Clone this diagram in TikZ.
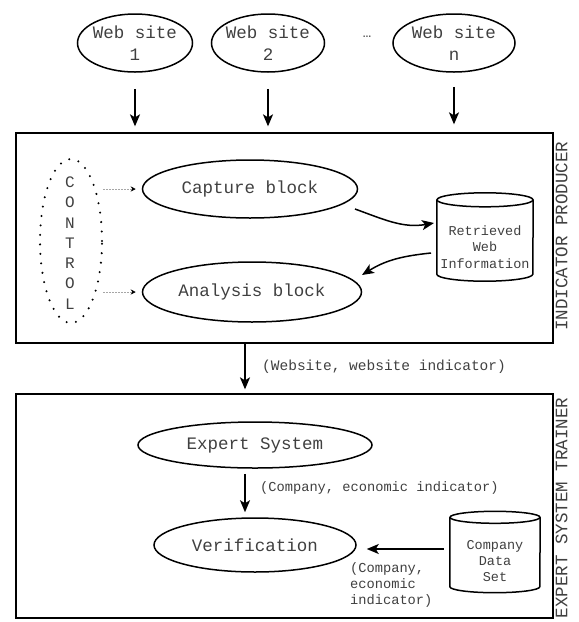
\documentclass[tikz,border=0pt]{standalone}
\usepackage{fontspec}
\newfontfamily\mono{Liberation Mono}
\usetikzlibrary{arrows.meta,shapes.geometric}
\begin{document}
\begin{tikzpicture}[x=1pt,y=1pt,
  every node/.style={font=\mono, text=black!75},
  oval/.style={ellipse, draw=black, line width=1.5pt, inner sep=0pt, align=center,
    font=\mono\fontsize{17.5}{22}\selectfont},
  frame/.style={draw=black, line width=1.3pt, inner sep=0pt},
  arr/.style={-{Stealth[length=12pt,width=10pt,inset=3pt]}, line width=1.5pt},
  ctl/.style={-{Stealth[length=5pt,width=5pt,color=black]}, draw=black!35,
    dash pattern=on 2pt off 1pt, line width=0.7pt},
  dotring/.style={ellipse, draw=black, line width=2.3pt, line cap=round,
    dash pattern=on 0pt off 9.5pt, inner sep=0pt},
  lbl/.style={font=\mono\fontsize{14.5}{16}\selectfont, inner sep=0pt},
  small/.style={font=\mono\fontsize{13.7}{16}\selectfont, inner sep=0pt, align=center},
  side/.style={rotate=90, font=\mono\fontsize{17.5}{18}\selectfont, inner sep=0pt},
  cyl/.style={line width=1.5pt}
]
\useasboundingbox (0,0) rectangle (579,-622);

% web sites
\node[oval, inner xsep=-4pt, minimum width=115pt, minimum height=58pt] (ws1) at (135,-43) {Web site\\1};
\node[oval, inner xsep=-4pt, minimum width=113pt, minimum height=58pt] (ws2) at (268,-43) {Web site\\2};
\node[oval, inner xsep=-4pt, minimum width=122pt, minimum height=58pt] (wsn) at (454,-43) {Web site\\n};
\node[font=\mono\fontsize{14}{16}\selectfont] (dots) at (367,-37) {…};

% indicator producer frame
\node[frame, minimum width=537pt, minimum height=210pt] (box1) at (284.5,-238) {};
\node[side] (side1) at (561.5,-236) {INDICATOR PRODUCER};

\draw[arr] ([yshift=-16pt]ws1.south) -- ([yshift=6pt]ws1.south |- box1.north);
\draw[arr] ([yshift=-16pt]ws2.south) -- ([yshift=6pt]ws2.south |- box1.north);
\draw[arr] ([yshift=-14pt]wsn.south) -- ([yshift=8pt]wsn.south |- box1.north);

% control
\node[dotring, minimum width=62pt, minimum height=164pt] (ctrl) at (71,-241) {};
\node[font=\mono\fontsize{16}{20.3}\selectfont, align=center, inner sep=0pt] (ctrltext) at (70,-243) {C\\O\\N\\T\\R\\O\\L};

\node[oval, minimum width=215pt, minimum height=58pt] (cap) at (250,-189) {Capture block};
\node[oval, minimum width=219pt, minimum height=60pt] (ana) at (252,-292) {Analysis block};

\draw[ctl] (ctrl.east |- cap.west) -- ([xshift=-6pt]cap.west);
\draw[ctl] (ctrl.east |- ana.west) -- ([xshift=-6pt]ana.west);

% retrieved web information cylinder
\node[minimum width=96pt, minimum height=88pt, inner sep=0pt] (ret) at (485,-237) {};
\draw[cyl] ([yshift=-7pt]ret.north west) -- ([yshift=7pt]ret.south west)
  arc[start angle=180, end angle=360, x radius=48pt, y radius=7pt]
  -- ([yshift=-7pt]ret.north east);
\draw[cyl] ([yshift=-7pt]ret.north) ellipse[x radius=48pt, y radius=7pt];
\node[small, font=\mono\fontsize{13.5}{16.5}\selectfont] (rettext) at (485,-247) {Retrieved\\Web\\Information};

\coordinate (c1) at ([xshift=105pt,yshift=-20pt]cap.center);
\coordinate (c2) at ([xshift=-51pt,yshift=14pt]ret.center);
\draw[arr] (c1) to[out=-20, in=190] (c2);
\coordinate (c3) at ([xshift=-54pt,yshift=-16pt]ret.center);
\coordinate (c4) at ([xshift=110pt,yshift=17pt]ana.center);
\draw[arr] (c3) to[out=186, in=32] (c4);

% expert system trainer frame
\node[frame, minimum width=537pt, minimum height=224pt] (box2) at (284.5,-506) {};
\node[side] (side2) at (561.5,-508) {EXPERT SYSTEM TRAINER};

\draw[arr] ([xshift=-39.5pt]box1.south) -- ([xshift=-39.5pt,yshift=4pt]box2.north);
\node[lbl, anchor=west] (l1) at (262,-367) {(Website, website indicator)};

\node[oval, minimum width=234pt, minimum height=46pt] (es) at (255,-445) {Expert System};
\node[oval, minimum width=202pt, minimum height=54pt] (ver) at (255,-545) {Verification};
\draw[arr] ([xshift=-10pt,yshift=-5pt]es.south) -- ([xshift=-10pt,yshift=5pt]ver.north);
\node[small, anchor=west] (l2) at (260,-488) {(Company, economic indicator)};

% company data set cylinder
\node[minimum width=90pt, minimum height=81pt, inner sep=0pt] (cds) at (495,-552) {};
\draw[cyl] ([yshift=-6pt]cds.north west) -- ([yshift=6pt]cds.south west)
  arc[start angle=180, end angle=360, x radius=45pt, y radius=6pt]
  -- ([yshift=-6pt]cds.north east);
\draw[cyl] ([yshift=-6pt]cds.north) ellipse[x radius=45pt, y radius=6pt];
\node[small, font=\mono\fontsize{13.5}{16}\selectfont] (cdstext) at (495,-561) {Company\\Data\\Set};

\coordinate (cdsin) at ([xshift=-6pt,yshift=3pt]cds.west);
\draw[arr, shorten >=10pt] (cdsin) -- (cdsin -| ver.east);
\node[small, align=left, anchor=north west] (l3) at (350,-562) {(Company,\\economic\\indicator)};
\end{tikzpicture}
\end{document}
